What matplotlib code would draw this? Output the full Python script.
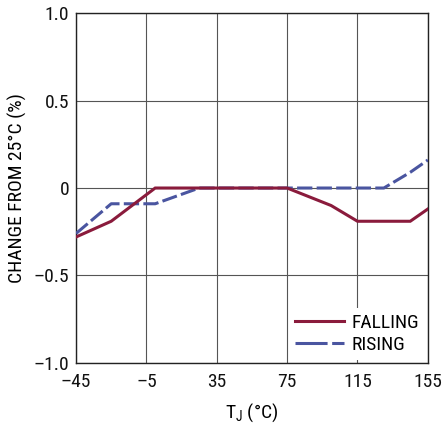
import matplotlib
matplotlib.use("Agg")
import matplotlib.pyplot as plt
from matplotlib.lines import Line2D

# temperature (degC) vs change from 25degC (%)
temp_falling = [-45, -25, 0, 75, 100, 115, 145, 155]
chg_falling = [-0.28, -0.19, 0.0, 0.0, -0.10, -0.19, -0.19, -0.12]

temp_rising = [-45, -25, 0, 25, 130, 145, 155]
chg_rising = [-0.26, -0.09, -0.09, 0.0, 0.0, 0.09, 0.16]

xticks = [-45, -5, 35, 75, 115, 155]
xtick_labels = ["\u201345", "\u20135", "35", "75", "115", "155"]
yticks = [-1.0, -0.5, 0, 0.5, 1.0]
ytick_labels = ["\u20131.0", "\u20130.5", "0", "0.5", "1.0"]

RED = '#8a1b3c'
BLUE = '#4a55a0'

plt.rcParams['font.family'] = ['Roboto Condensed', 'DejaVu Sans']
plt.rcParams['mathtext.fontset'] = 'custom'
plt.rcParams['mathtext.rm'] = 'Roboto Condensed'
fs = 14

fig = plt.figure(figsize=(4.42, 4.23), dpi=100)
ax = fig.add_axes([0.172, 0.142, 0.796, 0.827])

# falling curve sits on top where the two overlap
ax.plot(temp_rising, chg_rising, color=BLUE, lw=2.2,
        dashes=(5, 1.4), zorder=3)
ax.plot(temp_falling, chg_falling, color=RED, lw=2.2,
        solid_joinstyle='miter', zorder=4)

ax.set_xlim(-45, 155)
ax.set_ylim(-1.0, 1.0)
ax.set_xticks(xticks)
ax.set_xticklabels(xtick_labels)
ax.set_yticks(yticks)
ax.set_yticklabels(ytick_labels)
ax.tick_params(length=0, labelsize=fs, colors='#111111')
ax.tick_params(axis='x', pad=7)
ax.tick_params(axis='y', pad=5)
ax.grid(True, color='#555555', lw=0.8)
ax.set_axisbelow(True)
for s in ax.spines.values():
    s.set_linewidth(1.0)
    s.set_color('#222222')

ax.set_xlabel('T$_\\mathregular{J}$ (\u00b0C)', fontsize=fs, labelpad=8)
ax.set_ylabel('CHANGE FROM 25\u00b0C (%)', fontsize=fs, labelpad=5)

# legend keys with longer dashes
handles = [Line2D([], [], color=RED, lw=2.2),
           Line2D([], [], color=BLUE, lw=2.2, dashes=(10.5, 1.5))]
leg = ax.legend(handles, ['FALLING', 'RISING'], loc='lower right', frameon=True,
                fancybox=False, edgecolor='none', framealpha=1.0,
                handlelength=2.5, handletextpad=0.4, borderpad=0.3,
                borderaxespad=0.15, labelspacing=0.22, fontsize=fs)

fig.savefig('out.png', dpi=100)
